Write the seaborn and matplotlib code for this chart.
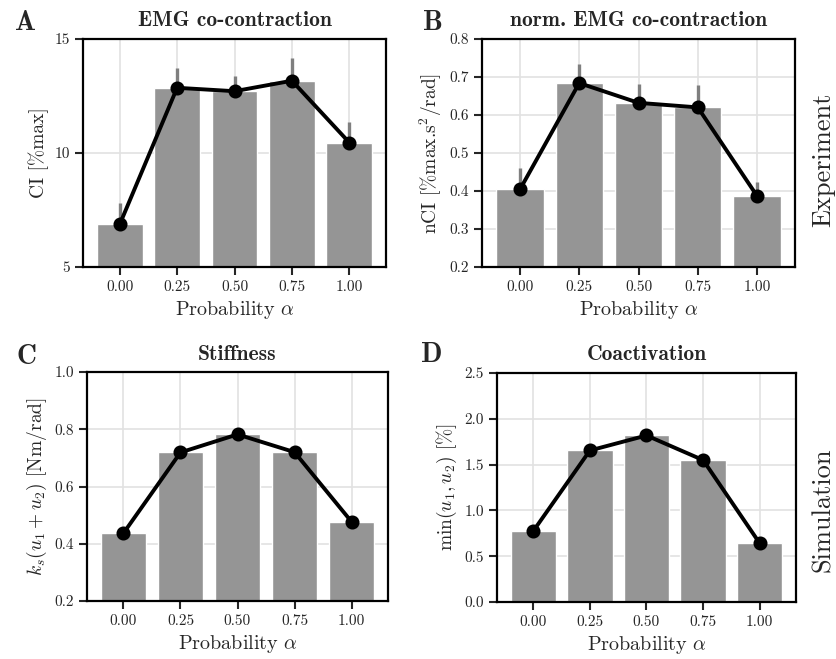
#!/usr/bin/env python3
"""
Co-contraction and stiffness vs. probability alpha (experiment and simulation).
"""
import matplotlib
matplotlib.use('Agg')
import matplotlib.pyplot as plt
import seaborn as sns

# Data
alpha_labels = ['0.00', '0.25', '0.50', '0.75', '1.00']

# Experiment
emg_ci = [6.87, 12.86, 12.71, 13.17, 10.46]
emg_ci_err = [0.95, 0.88, 0.65, 0.98, 0.90]
norm_ci = [0.404, 0.684, 0.632, 0.620, 0.387]
norm_ci_err = [0.056, 0.049, 0.050, 0.059, 0.037]

# Simulation
stiffness = [0.437, 0.719, 0.782, 0.720, 0.477]
coactivation = [0.774, 1.654, 1.818, 1.549, 0.640]

BAR_COLOR = '#959595'
ERR_COLOR = '#7f7f7f'

sns.set_style('ticks')
plt.rcParams['font.family'] = ['cmr10', 'DejaVu Serif']
plt.rcParams['mathtext.fontset'] = 'cm'
plt.rcParams['axes.formatter.use_mathtext'] = True
plt.rcParams['axes.unicode_minus'] = False


def draw_panel(ax, values, err, title, ylabel, ylim, yticks, yfmt):
    """Bars with mean line on top, optional upper error bars."""
    ax.set_axisbelow(True)
    if err is not None:
        # drawn under the bars so only the upper half shows
        ax.errorbar(range(len(values)), values, yerr=err, fmt='none',
                    ecolor=ERR_COLOR, elinewidth=2.4, capsize=0, zorder=1.5)
    sns.barplot(x=alpha_labels, y=values, color=BAR_COLOR, width=0.8,
                errorbar=None, saturation=1, ax=ax, zorder=2)
    sns.pointplot(x=alpha_labels, y=values, color='black', errorbar=None,
                  markers='o', markersize=8, linewidth=2.8, ax=ax, zorder=4)
    ax.grid(True, which='major', axis='both', color='#e2e2e2', linewidth=1.2)
    ax.set_xlim(-0.64, 4.64)
    ax.set_ylim(*ylim)
    ax.set_yticks(yticks)
    ax.set_yticklabels([yfmt.format(t) for t in yticks])
    ax.set_title(title, fontfamily='cmb10', fontsize=15.5, pad=9)
    ax.set_xlabel(r'Probability $\alpha$', fontsize=14.5)
    ax.set_ylabel(ylabel, fontsize=14)
    ax.tick_params(labelsize=11, length=6, width=1.5, direction='out')
    for side in ['left', 'bottom', 'top', 'right']:
        ax.spines[side].set_linewidth(1.6)
        ax.spines[side].set_color('black')


def main():
    fig = plt.figure(figsize=(8.37, 6.59), dpi=100)
    W, H = 837, 659

    def box(l, r, t, b):
        return [l / W, 1 - b / H, (r - l) / W, (b - t) / H]

    ax_a = fig.add_axes(box(83, 386, 39, 267))
    ax_b = fig.add_axes(box(482, 795, 39, 267))
    ax_c = fig.add_axes(box(87, 388, 372, 601))
    ax_d = fig.add_axes(box(497, 796, 373, 602))

    draw_panel(ax_a, emg_ci, emg_ci_err, 'EMG co-contraction', 'CI [%max]',
               (5, 15), [5, 10, 15], '{:.0f}')
    draw_panel(ax_b, norm_ci, norm_ci_err, 'norm. EMG co-contraction',
               r'nCI [%max.s$^2$/rad]', (0.2, 0.8),
               [0.2, 0.3, 0.4, 0.5, 0.6, 0.7, 0.8], '{:.1f}')
    draw_panel(ax_c, stiffness, None, 'Stiffness',
               r'$k_s(u_1+u_2)$ [Nm/rad]', (0.2, 1.0),
               [0.2, 0.4, 0.6, 0.8, 1.0], '{:.1f}')
    draw_panel(ax_d, coactivation, None, 'Coactivation',
               r'$\min(u_1,u_2)$ [%]', (0.0, 2.5),
               [0.0, 0.5, 1.0, 1.5, 2.0, 2.5], '{:.1f}')

    # Panel letters
    for letter, (x, y) in zip('ABCD', [(26, 23), (433, 23), (27, 357), (432, 355)]):
        fig.text(x / W, 1 - y / H, letter, fontfamily='cmb10', fontsize=20,
                 ha='center', va='center')

    # Row labels
    fig.text(823 / W, 1 - 160 / H, 'Experiment', rotation=90, fontsize=19,
             ha='center', va='center')
    fig.text(823 / W, 1 - 510 / H, 'Simulation', rotation=90, fontsize=19,
             ha='center', va='center')

    fig.savefig('out.png', dpi=100)
    plt.close(fig)


if __name__ == '__main__':
    main()
